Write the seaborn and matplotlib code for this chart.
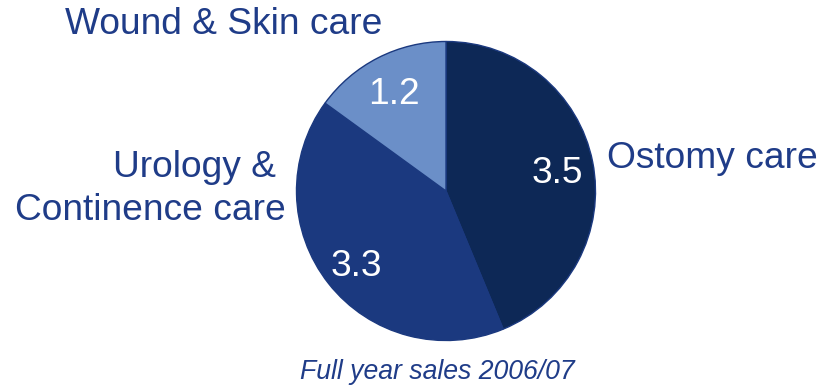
import matplotlib
matplotlib.use("Agg")
import matplotlib.pyplot as plt
from matplotlib.transforms import offset_copy
import seaborn as sns

# Full year sales 2006/07 by business area
categories = ["Ostomy care", "Urology & \nContinence care", "Wound & Skin care"]
sales = [3.5, 3.3, 1.2]
slice_colors = ["#0d2856", "#1b397f", "#6b8fc8"]

text_color = "#1f3c88"

sns.set_theme(style="white")
plt.rcParams["font.family"] = ["Liberation Sans", "DejaVu Sans"]

W, H = 824, 388
fig = plt.figure(figsize=(W / 100, H / 100), dpi=100)
fig.patch.set_facecolor("white")

cx, cy, r = 446, 191, 151
ax = fig.add_axes([(cx - r) / W, (H - cy - r) / H, 2 * r / W, 2 * r / H])

wedges, value_texts = ax.pie(
    sales,
    labels=[f"{v:.1f}" for v in sales],
    labeldistance=0.76,
    colors=slice_colors,
    startangle=90,
    counterclock=False,
    wedgeprops=dict(edgecolor="#1b397f", linewidth=1.0),
    textprops=dict(color="white", fontsize=26.7, ha="center", va="center"),
)
for t in value_texts:
    t.set_horizontalalignment("center")
    t.set_verticalalignment("center")
    # digits have no descenders; nudge them so the glyphs sit centred
    t.set_transform(offset_copy(t.get_transform(), fig=fig, y=-5, units="dots"))
ax.set_xlim(-1.01, 1.01)
ax.set_ylim(-1.01, 1.01)
ax.set_aspect("equal")
ax.axis("off")

# Category names around the pie
label_pos = {
    "Ostomy care": (607 / W, 1 - 158 / H, "left"),
    "Urology & \nContinence care": (286 / W, 1 - 189 / H, "right"),
    "Wound & Skin care": (224 / W, 1 - 24 / H, "center"),
}
for name in categories:
    x, y, ha = label_pos[name]
    fig.text(x, y, name, color=text_color, fontsize=26.7, ha=ha, va="center",
             multialignment=ha if ha != "center" else "center",
             linespacing=1.27)

fig.text(437 / W, 1 - 372 / H, "Full year sales 2006/07", color=text_color,
         fontsize=19.2, style="italic", ha="center", va="center")

fig.savefig("out.png", dpi=100, facecolor="white")
